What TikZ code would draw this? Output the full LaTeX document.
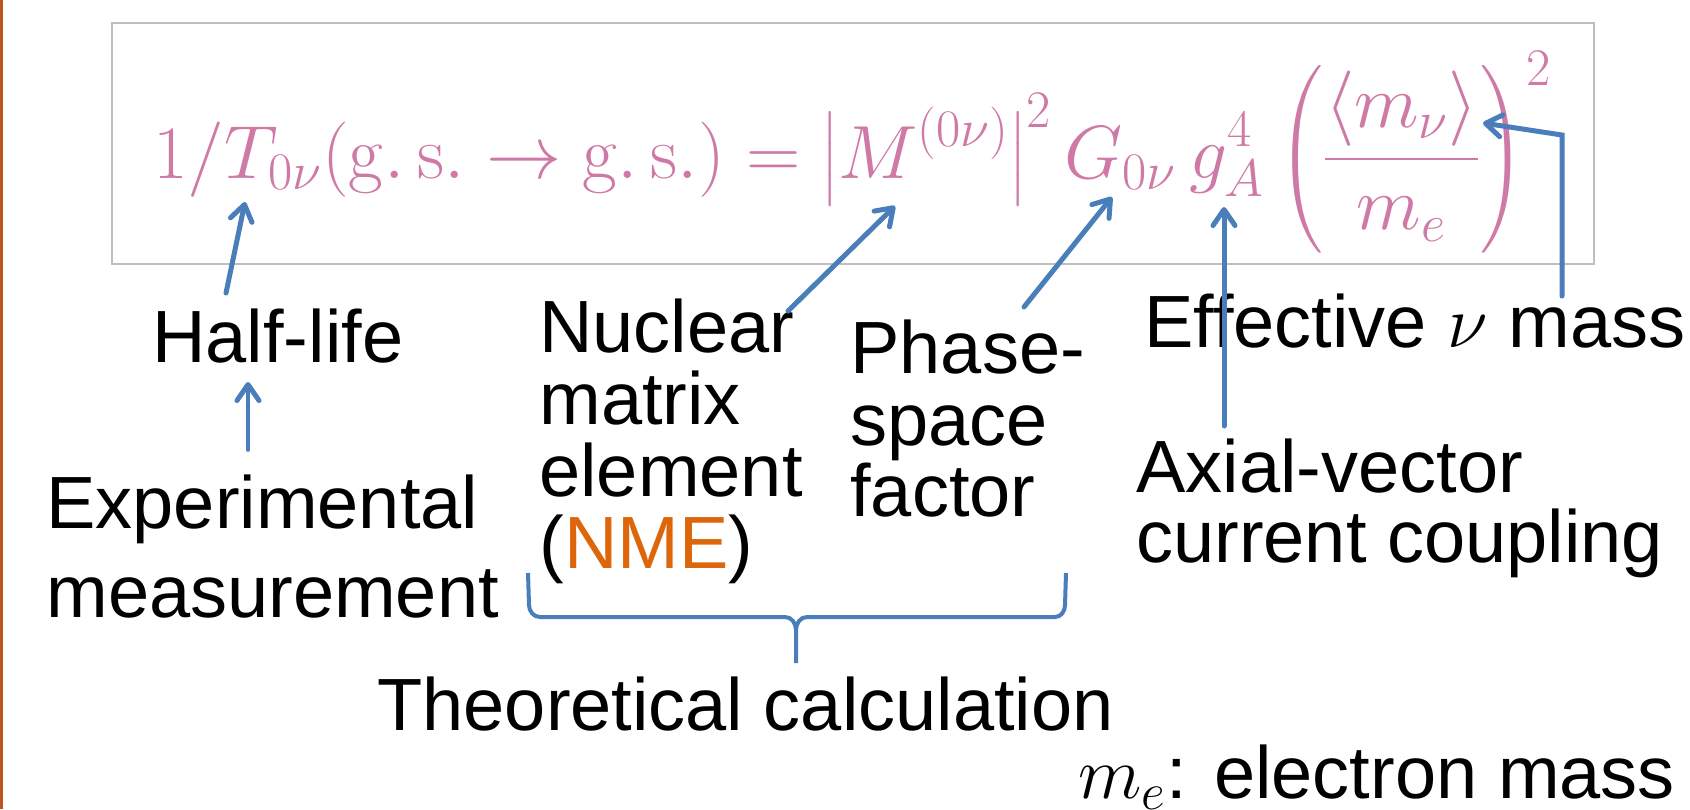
\RequirePackage{fix-cm}
\documentclass[tikz,border=0pt]{standalone}
\usepackage{amsmath}
\usepackage[no-math]{fontspec}
\setmainfont{Liberation Sans}
\usetikzlibrary{arrows.meta}
\definecolor{eqpink}{RGB}{206,121,166}
\definecolor{arrblue}{RGB}{74,126,187}
\definecolor{nmeorange}{RGB}{222,102,10}
\definecolor{edgeorange}{RGB}{192,84,30}
\definecolor{boxgray}{RGB}{191,191,191}
\begin{document}
\begin{tikzpicture}[x=0.5pt,y=-0.5pt,
  lbl/.style={anchor=base west, inner sep=0pt, font=\fontsize{37}{37}\selectfont},
  conn/.style={draw=arrblue, line width=2.5pt, line cap=round, line join=round,
    -{Straight Barb[length=8pt,width=11pt,line width=2.5pt,round]}},
  bracestyle/.style={draw=arrblue, line width=2pt}
]
\useasboundingbox (0,0) rectangle (1690,809);
\fill[white] (0,0) rectangle (1690,809);
\draw[edgeorange, line width=1.5pt] (1.5,0) -- (1.5,809);
\draw[boxgray, line width=1.3pt] (112,23) rectangle (1594,264);
\node[anchor=base west, inner sep=0pt, text=eqpink] (eq) at (153,178)
  {\resizebox{699pt}{!}{\fontsize{36}{36}\selectfont $\displaystyle 1/T_{0\nu}(\mathrm{g.\,s.}\rightarrow\mathrm{g.\,s.}) = \left|M^{(0\nu)}\right|^2 G_{0\nu}\, g_A^4 \left(\frac{\langle m_\nu\rangle}{m_e}\right)^{2}$}};

\node[lbl] (half) at (152,362) {Half-life};
\node[lbl] (exp1) at (46,528) {Experimental};
\node[lbl] (exp2) at (46,617) {measurement};
\node[lbl] (nuc1) at (539,352) {Nuclear};
\node[lbl] (nuc2) at (539,424) {matrix};
\node[lbl] (nuc3) at (539,496) {element};
\node[lbl] (nuc4) at (539,568) {(\textcolor{nmeorange}{NME})};
\node[lbl] (ph1) at (850,373) {Phase-};
\node[lbl] (ph2) at (850,445) {space};
\node[lbl] (ph3) at (850,516) {factor};
\node[lbl] (eff) at (1144,347) {Effective $\nu$ mass};
\node[lbl] (ax1) at (1136,492) {Axial-vector};
\node[lbl] (ax2) at (1136,562) {current coupling};
\node[lbl] (theo) at (377,730) {Theoretical calculation};
\node[lbl] (me) at (1078,798) {$m_e$: electron mass};

\coordinate (tipT) at (245,202);
\coordinate (tailT) at (226,293);
\coordinate (tipHalf) at (248,382);
\coordinate (tailExp) at (248,450);
\coordinate (tipM) at (895,206);
\coordinate (tailNuc) at (788,311);
\coordinate (tipG) at (1112,197);
\coordinate (tailPh) at (1024,307);
\coordinate (tipgA) at (1224,207);
\coordinate (tailAx) at (1224,426);
\coordinate (tipmnu) at (1483,123);
\coordinate (bendEff) at (1562,135);
\coordinate (tailEff) at (1562,296);

\draw[conn, line width=1.8pt] (tailExp) -- (tipHalf);
\draw[conn] (tailT) -- (tipT);
\draw[conn] (tailNuc) -- (tipM);
\draw[conn] (tailPh) -- (tipG);
\draw[conn] (tailAx) -- (tipgA);
\draw[conn, line join=miter] (tailEff) -- (bendEff) -- (tipmnu);

\draw[bracestyle] (528,573) -- (529,605) to[out=-90,in=180] (540,617) -- (785,617)
  to[out=0,in=90] (796,630) -- (796,663);
\draw[bracestyle] (796,630) to[out=90,in=180] (807,617) -- (1055,617)
  to[out=0,in=-90] (1065,605) -- (1066,573);
\end{tikzpicture}
\end{document}
